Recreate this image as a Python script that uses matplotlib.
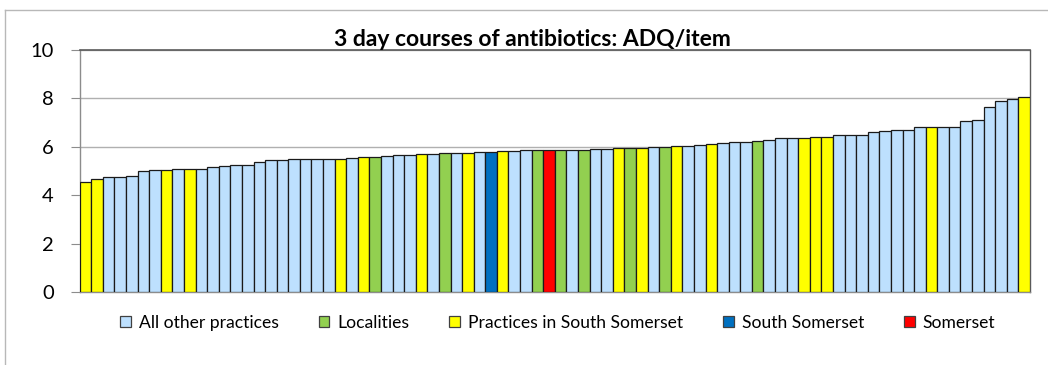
import matplotlib
matplotlib.use("Agg")
import matplotlib.pyplot as plt
from matplotlib.patches import Patch
from matplotlib.lines import Line2D

# ADQ per item for each practice/area, sorted ascending
values = [4.56, 4.68, 4.77, 4.77, 4.79, 5.01, 5.04, 5.04, 5.08, 5.08,
          5.08, 5.17, 5.19, 5.26, 5.26, 5.39, 5.44, 5.47, 5.48, 5.48,
          5.48, 5.48, 5.48, 5.52, 5.56, 5.56, 5.60, 5.65, 5.65, 5.69,
          5.72, 5.76, 5.76, 5.76, 5.79, 5.80, 5.83, 5.84, 5.85, 5.85,
          5.85, 5.88, 5.88, 5.88, 5.91, 5.91, 5.94, 5.94, 5.94, 5.98,
          5.98, 6.02, 6.02, 6.07, 6.13, 6.16, 6.20, 6.21, 6.23, 6.27,
          6.36, 6.36, 6.36, 6.42, 6.42, 6.49, 6.49, 6.49, 6.60, 6.64,
          6.69, 6.69, 6.80, 6.80, 6.80, 6.80, 7.07, 7.09, 7.66, 7.88,
          7.98, 8.06]

# group of each bar: O = other practice, L = locality,
# P = practice in South Somerset, S = South Somerset, M = Somerset
groups = ["P", "P", "O", "O", "O", "O", "O", "P", "O", "P",
          "O", "O", "O", "O", "O", "O", "O", "O", "O", "O",
          "O", "O", "P", "O", "P", "L", "O", "O", "O", "P",
          "O", "L", "O", "P", "O", "S", "P", "O", "O", "L",
          "M", "L", "O", "L", "O", "O", "P", "L", "P", "O",
          "L", "P", "O", "O", "P", "O", "O", "O", "L", "O",
          "O", "O", "P", "P", "P", "O", "O", "O", "O", "O",
          "O", "O", "O", "P", "O", "O", "O", "O", "O", "O",
          "O", "P"]

group_keys = ["O", "L", "P", "S", "M"]
group_labels = ["All other practices", "Localities", "Practices in South Somerset",
                "South Somerset", "Somerset"]
group_colors = {"O": "#BDE0FE", "L": "#92D050", "P": "#FFFF00",
                "S": "#0070C0", "M": "#FF0000"}

title = "3 day courses of antibiotics: ADQ/item"
yticks = [0, 2, 4, 6, 8, 10]

plt.rcParams["font.family"] = ["Lato", "DejaVu Sans"]

W, H = 1048, 365
fig = plt.figure(figsize=(W / 100, H / 100), dpi=100)
ax = fig.add_axes([79.7 / W, 1 - 292 / H, (1030 - 79.7) / W, (292 - 50) / H])

x = list(range(len(values)))
colors = [group_colors[g] for g in groups]
ax.bar(x, values, width=1.0, color=colors, edgecolor="#1a1a1a",
       linewidth=0.9, zorder=3)

ax.set_xlim(-0.5, len(values) - 0.5)
ax.set_ylim(0, 10)
ax.set_yticks(yticks)
ax.set_yticklabels([str(t) for t in yticks], fontsize=14.5)
ax.set_xticks([])
ax.tick_params(axis="y", length=6.5, width=0.8, color="#8c8c8c", pad=12)
ax.yaxis.grid(True, color="#b0b0b0", linewidth=1.0, zorder=0)

for side in ["left", "bottom"]:
    ax.spines[side].set_color("#8c8c8c")
    ax.spines[side].set_linewidth(1.0)
ax.spines["top"].set_color("#5a5a5a")
ax.spines["top"].set_linewidth(1.2)
ax.spines["right"].set_color("#5a5a5a")
ax.spines["right"].set_linewidth(1.0)

fig.text(532 / W, 1 - 46 / H, title, ha="center", va="baseline",
         fontsize=16.5, fontweight="bold")

handles = [Patch(facecolor=group_colors[k], edgecolor="#404040", linewidth=0.9)
           for k in group_keys]
ax.legend(handles, group_labels, loc="center", bbox_to_anchor=(0.503, -0.128),
          ncol=5, frameon=False, fontsize=12.6, handlelength=0.6,
          handleheight=0.6, handletextpad=0.45, columnspacing=2.3,
          borderpad=0, borderaxespad=0)

# outer chart border
fig.add_artist(Line2D([5 / W, 5 / W], [1 - 10 / H, -0.1], color="#b8b8b8",
                      linewidth=1.0, transform=fig.transFigure))
fig.add_artist(Line2D([5 / W, 1.1], [1 - 10 / H, 1 - 10 / H], color="#b8b8b8",
                      linewidth=1.0, transform=fig.transFigure))

fig.savefig("out.png", dpi=100)
